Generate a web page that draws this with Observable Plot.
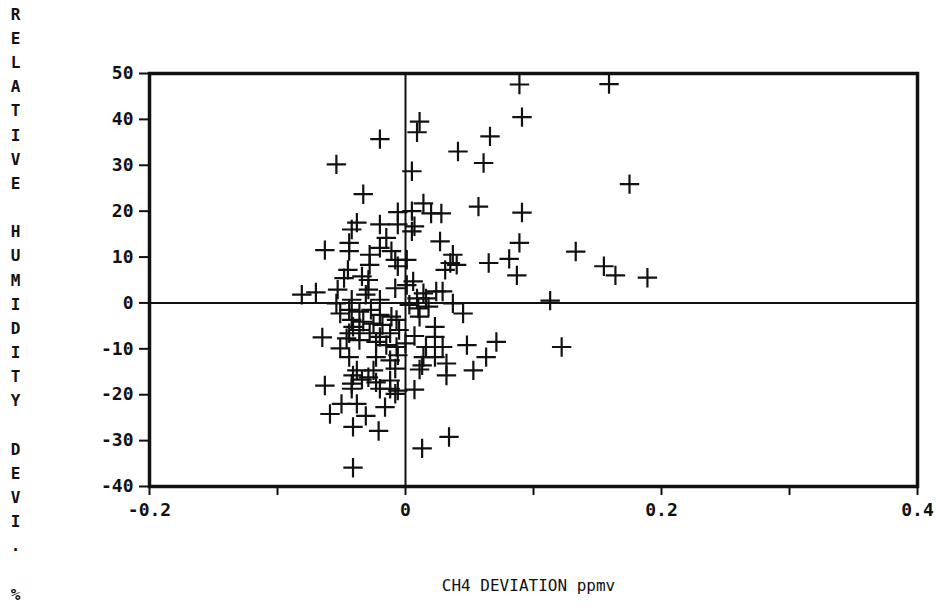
<!DOCTYPE html>
<html>
<head>
<meta charset="utf-8">
<script src="https://cdn.jsdelivr.net/npm/d3@7"></script>
<script src="https://cdn.jsdelivr.net/npm/@observablehq/plot@0.6"></script>
<style>
  html, body { margin: 0; padding: 0; background: #fff; }
  #chart svg { display: block; }
</style>
</head>
<body>
<div id="chart"></div>
<script>
// CH4 deviation (ppmv)
const ch4Dev = [
  0.089, 0.159, 0.091, 0.011, 0.009, -0.020, 0.066, 0.041, 0.061, -0.054,
  0.005, 0.175, -0.033, 0.014, 0.057, 0.091, -0.006, 0.005, 0.020, 0.028,
  -0.038, -0.020, -0.006, 0.007, 0.005, -0.042, 0.089, 0.027, -0.015, -0.063,
  -0.044, -0.044, -0.020, -0.011, -0.028, -0.008, 0.001, 0.037, 0.035, 0.040,
  0.031, 0.065, 0.081, 0.087, -0.028, -0.006, -0.045, -0.048, -0.034, -0.029,
  0.006, 0.001, -0.008, -0.053, -0.029, -0.031, -0.081, -0.070, 0.014, 0.024,
  0.029, 0.009, 0.016, -0.054, -0.042, -0.020, 0.003, 0.010, 0.018, 0.037,
  0.045, 0.113, -0.051, -0.044, -0.036, -0.027, -0.020, -0.011, -0.007, -0.042,
  -0.033, -0.025, -0.018, 0.011, -0.041, -0.044, -0.036, -0.028, -0.020, -0.012,
  -0.005, 0.023, 0.023, 0.007, -0.065, 0.048, 0.071, -0.046, -0.036, -0.023,
  -0.015, -0.007, 0.000, 0.016, 0.029, -0.051, -0.023, -0.006, -0.044, 0.014,
  0.023, 0.063, 0.122, -0.012, 0.013, 0.011, 0.032, 0.032, 0.053, -0.038,
  -0.025, -0.008, -0.041, -0.029, -0.034, -0.023, -0.012, -0.042, -0.063, -0.020,
  -0.012, -0.006, -0.008, 0.007, -0.042, -0.050, -0.038, -0.059, -0.031, -0.016,
  -0.041, -0.021, 0.034, 0.013, -0.041, 0.133, 0.155, 0.164, 0.189
];
// Relative humidity deviation (%)
const rhDev = [
  47.6, 47.7, 40.5, 39.5, 37.2, 35.7, 36.3, 33.0, 30.5, 30.2,
  28.7, 25.9, 23.7, 21.7, 21.0, 19.7, 19.8, 20.0, 19.5, 19.5,
  17.5, 17.1, 17.1, 16.7, 15.6, 16.0, 13.1, 13.4, 14.2, 11.5,
  13.1, 11.3, 12.0, 11.3, 10.5, 9.4, 9.4, 10.5, 8.7, 8.3,
  7.2, 8.7, 9.6, 6.0, 8.3, 8.0, 7.2, 5.4, 5.8, 5.0,
  4.7, 3.9, 3.2, 2.9, 2.9, 1.8, 1.8, 2.3, 2.1, 2.5,
  2.5, 1.0, 1.0, -0.1, 0.7, 0.7, -0.4, -1.2, -0.8, -0.1,
  -2.3, 0.5, -2.3, -1.5, -1.9, -1.5, -2.6, -3.0, -3.7, -3.7,
  -4.1, -4.5, -4.8, -3.0, -5.2, -6.6, -5.9, -6.6, -7.4, -6.6,
  -5.9, -5.2, -7.4, -7.2, -7.5, -9.2, -8.5, -7.7, -8.1, -8.5,
  -9.2, -9.6, -8.8, -9.6, -9.6, -9.9, -11.8, -11.4, -11.8, -11.8,
  -11.8, -11.8, -9.6, -12.5, -13.6, -14.5, -13.2, -15.8, -14.7, -14.7,
  -14.7, -14.3, -15.8, -16.2, -16.7, -17.3, -16.9, -17.6, -18.0, -18.7,
  -18.7, -19.1, -19.8, -18.9, -18.7, -22.0, -22.0, -24.2, -24.6, -22.7,
  -27.0, -27.9, -29.2, -31.7, -35.9, 11.2, 8.0, 6.0, 5.5
];

const xTicks = [-0.2, -0.1, 0, 0.1, 0.2, 0.3, 0.4];
const xTickLabels = ["-0.2", "", "0", "", "0.2", "", "0.4"];
const yTicks = [-40, -30, -20, -10, 0, 10, 20, 30, 40, 50];
const yTickLabels = ["-40", "-30", "-20", "-10", "0", "10", "20", "30", "40", "50"];
const xTitle = "CH4 DEVIATION ppmv";
const yTitle = "RELATIVE HUMIDITY DEVI. %";

const points = ch4Dev.map((x, i) => ({x, y: rhDev[i]}));
const mono = "'DejaVu Sans Mono', 'Liberation Mono', monospace";

const chart = Plot.plot({
  width: 936,
  height: 608,
  marginLeft: 149,
  marginRight: 19,
  marginTop: 73,
  marginBottom: 122,
  style: {fontFamily: mono, color: "#111", background: "#fff"},
  x: {domain: [-0.2, 0.4]},
  y: {domain: [-40, 50]},
  marks: [
    Plot.ruleY([0], {stroke: "#111", strokeWidth: 2}),
    Plot.ruleX([0], {stroke: "#111", strokeWidth: 2}),
    Plot.dot(points, {x: "x", y: "y", symbol: "plus", r: 6.3, stroke: "#111", strokeWidth: 2.2}),
    Plot.frame({stroke: "#111", strokeWidth: 3.5}),
    Plot.axisY({
      ticks: yTicks, tickSize: 10, tickPadding: 6, strokeWidth: 2,
      tickFormat: d => yTickLabels[yTicks.indexOf(d)],
      fontSize: 18, fontWeight: "bold", fontFamily: mono, label: null
    }),
    Plot.axisX({
      ticks: xTicks, tickSize: 9, tickPadding: 8, strokeWidth: 2,
      tickFormat: d => xTickLabels[xTicks.indexOf(d)],
      fontSize: 18, fontWeight: "bold", fontFamily: mono, label: null
    }),
    Plot.text([xTitle], {
      text: d => d, frameAnchor: "bottom", dx: -5, dy: 99,
      lineAnchor: "middle", fontSize: 16, fontFamily: mono, fill: "#111"
    }),
    Plot.text([yTitle], {
      text: d => d.split("").join("\n"), frameAnchor: "left", dx: -134, dy: 22,
      lineAnchor: "middle", lineHeight: 1.51, textAnchor: "middle",
      fontSize: 16, fontWeight: "bold", fontFamily: mono, fill: "#111"
    })
  ]
});
document.getElementById("chart").append(chart);
</script>
</body>
</html>
